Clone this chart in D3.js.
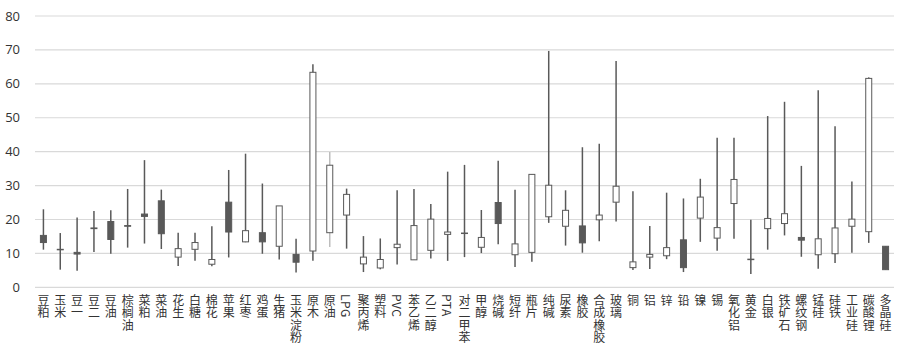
<!DOCTYPE html>
<html lang="zh">
<head>
    <meta charset="UTF-8">
    <title>商品期货波动区间</title>
    <style>
        body { margin: 0; background: #fff; }
        svg { display: block; }
        .grid line { stroke: #d9d9d9; stroke-width: 1.2px; }
        .ytick { font: 13px "Open Sans", sans-serif; fill: #333; text-anchor: end; }
        .xlab { font: 12px "Noto Sans CJK SC", sans-serif; fill: #333;
                writing-mode: vertical-rl; text-orientation: mixed; letter-spacing: 0.5px; }
    </style>
</head>
<body>
    <svg width="900" height="354"></svg>
    <script src="https://cdn.jsdelivr.net/npm/d3@7/dist/d3.min.js"></script>
    <script>
        const categories = ["豆粕", "玉米", "豆一", "豆二", "豆油", "棕榈油", "菜粕", "菜油", "花生", "白糖",
            "棉花", "苹果", "红枣", "鸡蛋", "生猪", "玉米淀粉", "原木", "原油", "LPG", "聚丙烯",
            "塑料", "PVC", "苯乙烯", "乙二醇", "PTA", "对二甲苯", "甲醇", "烧碱", "短纤", "瓶片",
            "纯碱", "尿素", "橡胶", "合成橡胶", "玻璃", "铜", "铝", "锌", "铅", "镍",
            "锡", "氧化铝", "黄金", "白银", "铁矿石", "螺纹钢", "锰硅", "硅铁", "工业硅", "碳酸锂", "多晶硅"];

        const open = [15.3, 11.2, 10.3, 17.5, 19.4, 18.2, 21.6, 25.5, 8.9, 11.2,
            6.8, 25.1, 13.4, 16.1, 12.1, 9.7, 10.7, 16.1, 21.3, 6.9,
            5.7, 11.7, 8.1, 10.9, 15.6, 16.0, 11.8, 25.0, 9.6, 10.3,
            20.8, 18.0, 18.1, 19.9, 25.1, 5.8, 8.9, 9.3, 14.0, 20.4,
            14.5, 24.7, 8.3, 17.3, 18.8, 14.7, 9.6, 9.9, 18.0, 16.4, 12.1];
        const close = [13.2, 11.1, 9.8, 17.3, 14.1, 18.0, 20.9, 15.8, 11.4, 13.2,
            8.2, 16.3, 16.7, 13.4, 24.0, 7.4, 63.4, 36.0, 27.4, 8.9,
            8.2, 12.7, 18.2, 20.1, 16.3, 15.9, 14.7, 18.8, 12.8, 33.3,
            30.1, 22.7, 13.1, 21.3, 29.8, 7.5, 9.7, 11.7, 5.8, 26.6,
            17.6, 31.8, 8.2, 20.3, 21.7, 13.9, 14.3, 17.5, 20.1, 61.6, 5.2];
        const low = [11.1, 5.2, 4.9, 10.4, 9.9, 11.7, 12.9, 11.3, 6.3, 7.8,
            6.2, 8.8, 13.3, 9.9, 8.2, 4.4, 7.8, 11.9, 11.4, 4.5,
            5.3, 6.7, 8.1, 8.5, 7.8, 8.9, 10.1, 12.7, 6.0, 7.5,
            19.0, 12.3, 10.2, 13.6, 19.4, 5.1, 5.4, 8.3, 4.5, 13.4,
            10.8, 14.3, 3.9, 11.1, 15.3, 9.0, 5.5, 7.2, 10.2, 13.1, 5.2];
        const high = [23.0, 16.0, 20.6, 22.5, 22.7, 29.0, 37.5, 28.8, 16.1, 16.1,
            18.0, 34.6, 39.4, 30.6, 24.0, 14.3, 65.8, 39.9, 29.1, 15.1,
            14.4, 28.6, 29.0, 24.6, 34.1, 36.1, 22.8, 37.3, 28.8, 33.3,
            69.7, 28.6, 41.3, 42.3, 66.7, 28.3, 18.1, 27.9, 26.2, 32.0,
            44.1, 44.1, 19.9, 50.5, 54.7, 35.8, 58.1, 47.5, 31.2, 61.9, 12.1];
        const yTicks = [0, 10, 20, 30, 40, 50, 60, 70, 80];

        const rows = categories.map((c, i) => ({ name: c, o: open[i], c: close[i], l: low[i], h: high[i] }));
        const lightWick = ["原油"];

        const svg = d3.select("svg");
        const x = d3.scaleBand().domain(categories).range([35, 894]);
        const y = d3.scaleLinear().domain([0, 80]).range([287.3, 16]);
        const dark = "#595959";
        const boxW = 6;

        svg.append("g").attr("class", "grid")
            .selectAll("line").data(yTicks).enter().append("line")
            .attr("x1", 35).attr("x2", 894)
            .attr("y1", d => y(d)).attr("y2", d => y(d));

        svg.append("g").selectAll("text").data(yTicks).enter().append("text")
            .attr("class", "ytick")
            .attr("x", 20).attr("y", d => y(d)).attr("dy", "0.35em")
            .text(d => d);

        const cx = d => x(d.name) + x.bandwidth() / 2;

        const candle = svg.append("g").selectAll("g").data(rows).enter().append("g");

        candle.append("line")
            .attr("x1", cx).attr("x2", cx)
            .attr("y1", d => y(d.h)).attr("y2", d => y(d.l))
            .attr("stroke", d => lightWick.includes(d.name) ? "#bdbdbd" : dark)
            .attr("stroke-width", 1.5);

        candle.append("rect")
            .attr("x", d => cx(d) - boxW / 2)
            .attr("width", boxW)
            .attr("y", d => y(Math.max(d.o, d.c)))
            .attr("height", d => Math.max(0.5, Math.abs(y(d.o) - y(d.c))))
            .attr("fill", d => d.c >= d.o ? "#fff" : dark)
            .attr("stroke", dark)
            .attr("stroke-width", 1);

        // x labels run top to bottom; latin names get turned by the vertical writing mode
        svg.append("g").selectAll("text").data(categories).enter().append("text")
            .attr("class", "xlab")
            .attr("x", d => x(d) + x.bandwidth() / 2)
            .attr("y", 294)
            .text(d => d);
    </script>
</body>
</html>
